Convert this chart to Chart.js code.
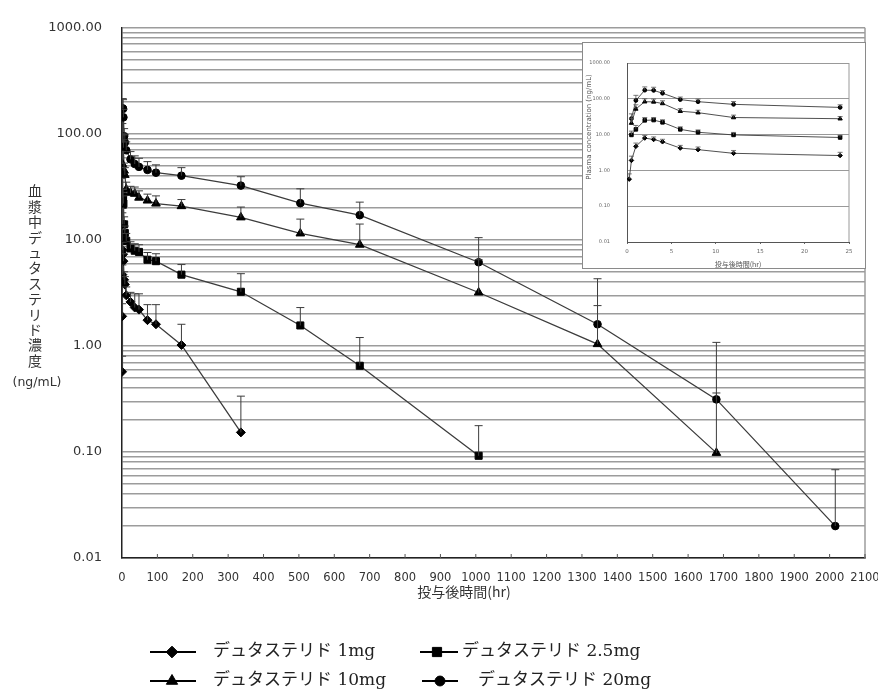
<!DOCTYPE html>
<html>
<head>
<meta charset="utf-8">
<script src="https://cdn.jsdelivr.net/npm/chart.js@4/dist/chart.umd.min.js"></script>
<style>
  html, body { margin: 0; padding: 0; background: #fff; }
  #wrap { position: relative; width: 878px; height: 690px; }
  #main { position: absolute; left: 0; top: 0; }
  #cajaInset { position: absolute; left: 582px; top: 42px; width: 282px; height: 225px;
               border: 1px solid #8a8a8a; background: #fff; }
</style>
</head>
<body>
<div id="wrap">
  <canvas id="main" width="878" height="690"></canvas>
  <div id="cajaInset"><canvas id="inset" width="282" height="225"></canvas></div>
</div>
<script>
// =======================================================================
// 1. DATOS
// =======================================================================
const tiempos = [0.25, 0.5, 1, 2, 3, 4, 6, 8, 12, 24, 36, 48, 72, 96, 168, 336, 504, 672, 1008, 1344, 1680, 2016];

const etiquetas = ['デュタステリド 1mg', 'デュタステリド 2.5mg', 'デュタステリド 10mg', 'デュタステリド 20mg'];

// medias
const dosis1  = [0.57, 1.9, 4.7, 8.0, 7.3, 6.3, 4.2, 3.8, 3.0, 2.6, 2.3, 2.2, 1.75, 1.6, 1.02, 0.153, null, null, null, null, null, null];
const dosis25 = [null, 9.8, 14, 25, 25.5, 22, 14, 11.6, 9.8, 8.3, 7.9, 7.7, 6.5, 6.3, 4.7, 3.24, 1.56, 0.65, 0.092, null, null, null];
const dosis10 = [null, 21, 52, 83, 82, 74, 45, 41, 30, 27.8, 27.2, 25, 23.5, 22, 20.8, 16.3, 11.5, 9.0, 3.19, 1.04, 0.098, null];
const dosis20 = [null, 28, 90, 174, 172, 143, 95, 83, 70, 57.5, 52, 48.8, 45.7, 43, 40.3, 32.5, 22.2, 17.1, 6.15, 1.6, 0.313, 0.02];

// media + DE (extremo superior de la barra de error)
const sup1  = [0.8, 2.5, 5.8, 9.5, 8.6, 7.4, 5.0, 4.5, 3.6, 3.2, 3.1, 3.1, 2.45, 2.45, 1.6, 0.336, null, null, null, null, null, null];
const sup25 = [null, 12.5, 18, 30, 30, 26, 16.5, 13.5, 11.5, 9.6, 9.2, 9.0, 7.6, 7.4, 5.85, 4.8, 2.3, 1.2, 0.177, null, null, null];
const sup10 = [null, 28, 68, 100, 98, 88, 53, 48, 35, 32, 31.5, 29, 27, 26, 24, 20.4, 15.7, 14.1, 6.5, 2.4, 0.36, null];
const sup20 = [null, 38, 125, 215, 210, 170, 112, 98, 84, 68, 62, 58.8, 54.7, 51, 48, 39.4, 30.3, 22.7, 10.5, 4.3, 1.08, 0.068];

// ejes
const decadasY = [0.01, 0.1, 1, 10, 100, 1000];
const etiquetasY = ['0.01', '0.10', '1.00', '10.00', '100.00', '1000.00'];
const estilos = ['rectRot', 'rect', 'triangle', 'circle'];
const radios = [4.5, 5, 5, 3.8];

// líneas de rejilla menores: 1..9 x 10^k
const rejillaY = [];
for (let e = -2; e <= 2; e++) {
    for (let m = 1; m <= 9; m++) rejillaY.push(Number((m * Math.pow(10, e)).toPrecision(3)));
}
rejillaY.push(1000);

const medias = [dosis1, dosis25, dosis10, dosis20];
const superiores = [sup1, sup25, sup10, sup20];

function puntos(k, tMax) {
    return tiempos.map((t, i) => ({ x: t, y: medias[k][i], sup: superiores[k][i] }))
        .filter(p => p.y != null && p.x <= tMax);
}

function crearDatasets(tMax, escala) {
    return etiquetas.map((lab, k) => ({
        label: lab,
        data: puntos(k, tMax),
        borderColor: '#3c3c3c',
        borderWidth: escala < 1 ? 0.9 : 1.3,
        pointStyle: estilos[k],
        pointRadius: radios[k] * escala,
        pointBackgroundColor: '#000',
        pointBorderColor: '#000',
        pointBorderWidth: 1,
        tension: 0,
        spanGaps: true
    }));
}

// =======================================================================
// 2. PLUGINS
// =======================================================================
const pluginBarras = {
    id: 'barrasError',
    afterDatasetsDraw(chart, args, opts) {
        const ctx = chart.ctx, area = chart.chartArea, ys = chart.scales.y;
        ctx.save();
        ctx.beginPath();
        ctx.rect(area.left, area.top - 2, area.right - area.left, area.bottom - area.top + 2);
        ctx.clip();
        ctx.strokeStyle = opts.color;
        ctx.lineWidth = opts.width;
        chart.data.datasets.forEach((ds, i) => {
            const meta = chart.getDatasetMeta(i);
            ds.data.forEach((d, j) => {
                if (d.sup == null) return;
                const p = meta.data[j];
                const yTop = ys.getPixelForValue(d.sup);
                ctx.beginPath();
                ctx.moveTo(p.x, p.y);
                ctx.lineTo(p.x, yTop);
                ctx.moveTo(p.x - opts.cap, yTop);
                ctx.lineTo(p.x + opts.cap, yTop);
                ctx.stroke();
            });
        });
        ctx.restore();
    }
};

const pluginTextos = {
    id: 'textosMain',
    afterDraw(chart) {
        const ctx = chart.ctx, area = chart.chartArea, xs = chart.scales.x;
        ctx.save();
        // borde derecho
        ctx.strokeStyle = '#9c9c9c';
        ctx.lineWidth = 1.5;
        ctx.beginPath();
        ctx.moveTo(area.right, area.top);
        ctx.lineTo(area.right, area.bottom);
        ctx.stroke();
        // marcas interiores del eje x
        ctx.strokeStyle = '#555';
        ctx.lineWidth = 1;
        for (let v = 100; v <= 2100; v += 100) {
            const x = xs.getPixelForValue(v);
            ctx.beginPath();
            ctx.moveTo(x, area.bottom);
            ctx.lineTo(x, area.bottom - 4);
            ctx.stroke();
        }
        // título eje y (vertical)
        ctx.fillStyle = '#333';
        ctx.textAlign = 'center';
        ctx.textBaseline = 'middle';
        ctx.font = '14px "Noto Sans CJK JP"';
        Array.from('血漿中デュタステリド濃度').forEach((c, i) => ctx.fillText(c, 35, 191 + i * 15.4));
        ctx.font = '12.5px "DejaVu Sans"';
        ctx.fillText('(ng/mL)', 37, 383);
        // título eje x
        ctx.font = '14px "Noto Sans CJK JP"';
        ctx.fillText('投与後時間(hr)', 464, 592);

        // leyenda
        const pos = [
            { lx1: 150, lx2: 196, mx: 172, tx: 213, y: 652 },
            { lx1: 420, lx2: 458, mx: 437, tx: 462, y: 652 },
            { lx1: 150, lx2: 196, mx: 172, tx: 213, y: 681 },
            { lx1: 422, lx2: 458, mx: 440, tx: 478, y: 681 }
        ];
        ctx.textAlign = 'left';
        ctx.font = '17px "DejaVu Serif", "Noto Sans CJK JP"';
        chart.data.datasets.forEach((ds, k) => {
            const p = pos[k];
            ctx.strokeStyle = '#000';
            ctx.fillStyle = '#000';
            ctx.lineWidth = 2;
            ctx.beginPath();
            ctx.moveTo(p.lx1, p.y);
            ctx.lineTo(p.lx2, p.y);
            ctx.stroke();
            ctx.lineWidth = 1;
            Chart.helpers.drawPoint(ctx, { pointStyle: ds.pointStyle, radius: ds.pointRadius * 1.3, rotation: 0, borderWidth: 1 }, p.mx, p.y);
            ctx.fillStyle = '#222';
            ctx.fillText(ds.label, p.tx, p.y);
        });
        ctx.restore();
    }
};

const pluginTextosInset = {
    id: 'textosInset',
    afterDraw(chart) {
        const ctx = chart.ctx, area = chart.chartArea;
        ctx.save();
        ctx.strokeStyle = '#999';
        ctx.lineWidth = 1;
        ctx.beginPath();
        ctx.moveTo(area.right, area.top);
        ctx.lineTo(area.right, area.bottom);
        ctx.stroke();
        ctx.fillStyle = '#555';
        ctx.textAlign = 'center';
        ctx.textBaseline = 'middle';
        ctx.font = '7px "Noto Sans CJK JP"';
        ctx.fillText('投与後時間(hr)', 155, 221);
        ctx.translate(6, 84);
        ctx.rotate(-Math.PI / 2);
        ctx.font = '7px "DejaVu Sans"';
        ctx.fillText('Plasma concentration (ng/mL)', 0, 0);
        ctx.restore();
    }
};

// =======================================================================
// 3. GRÁFICO PRINCIPAL
// =======================================================================
const ctxMain = document.getElementById('main').getContext('2d');
window.graficoMain = new Chart(ctxMain, {
    type: 'line',
    data: { datasets: crearDatasets(2100, 1) },
    options: {
        responsive: false,
        animation: false,
        layout: { padding: { left: 0, right: 13, top: 20, bottom: 102 } },
        plugins: {
            legend: { display: false },
            tooltip: { enabled: false },
            barrasError: { color: '#3c3c3c', width: 1, cap: 4 }
        },
        scales: {
            x: {
                type: 'linear', min: 0, max: 2100,
                afterFit(s) { s.height = 30; s.paddingLeft = 0; s.paddingRight = 0; },
                ticks: { stepSize: 100, autoSkip: false, maxRotation: 0, padding: 5, color: '#333',
                         font: { family: 'DejaVu Sans', size: 11.5 },
                         callback(v) { return String(v); } },
                grid: { display: false },
                border: { display: true, color: '#222', width: 1.5 }
            },
            y: {
                type: 'logarithmic', min: 0.01, max: 1000,
                afterFit(s) { s.width = 122; },
                afterBuildTicks(s) { s.ticks = rejillaY.map(v => ({ value: v })); },
                ticks: {
                    autoSkip: false, padding: 20, color: '#333',
                    font: { family: 'DejaVu Sans', size: 13 },
                    callback(v) { const k = decadasY.indexOf(v); return k >= 0 ? etiquetasY[k] : ''; }
                },
                grid: { color: '#9c9c9c', lineWidth: 1.6, drawTicks: false },
                border: { display: true, color: '#222', width: 1.5 }
            }
        }
    },
    plugins: [pluginBarras, pluginTextos]
});

// =======================================================================
// 4. GRÁFICO INSERTADO (0–25 h)
// =======================================================================
const ctxInset = document.getElementById('inset').getContext('2d');
window.graficoInset = new Chart(ctxInset, {
    type: 'line',
    data: { datasets: crearDatasets(25, 0.5) },
    options: {
        responsive: false,
        animation: false,
        layout: { padding: { left: 0, right: 16, top: 8, bottom: 0 } },
        plugins: {
            legend: { display: false },
            tooltip: { enabled: false },
            barrasError: { color: '#555', width: 0.8, cap: 2.5 }
        },
        scales: {
            x: {
                type: 'linear', min: 0, max: 25,
                afterFit(s) { s.height = 26; s.paddingLeft = 0; s.paddingRight = 0; },
                ticks: { stepSize: 5, autoSkip: false, maxRotation: 0, padding: 4, color: '#666',
                         font: { family: 'DejaVu Sans', size: 5.5 } },
                grid: { drawOnChartArea: false, tickLength: 2, color: '#666' },
                border: { display: true, color: '#555', width: 1 }
            },
            y: {
                type: 'logarithmic', min: 0.01, max: 1000,
                afterFit(s) { s.width = 44; },
                afterBuildTicks(s) { s.ticks = decadasY.map(v => ({ value: v })); },
                ticks: {
                    autoSkip: false, padding: 17, color: '#666',
                    font: { family: 'DejaVu Sans', size: 5 },
                    callback(v) { const k = decadasY.indexOf(v); return k >= 0 ? etiquetasY[k] : ''; }
                },
                grid: { color: '#999', lineWidth: 1, drawTicks: false },
                border: { display: true, color: '#555', width: 1 }
            }
        }
    },
    plugins: [pluginBarras, pluginTextosInset]
});
</script>
</body>
</html>
